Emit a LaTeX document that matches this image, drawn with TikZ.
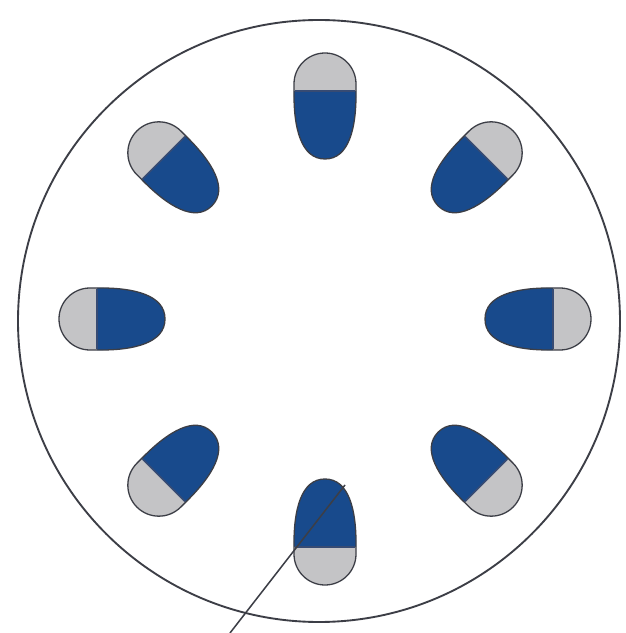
\documentclass[tikz,border=0pt]{standalone}
\usetikzlibrary{calc}
\definecolor{capblue}{RGB}{24,74,140}
\definecolor{capgray}{RGB}{196,196,198}
\definecolor{capline}{RGB}{60,62,70}
\definecolor{divline}{RGB}{55,75,115}
\tikzset{
  capsule/.pic={
    \fill[capblue] (15,31) .. controls (-22,31.5) and (-53,24) .. (-53,0)
                  .. controls (-53,-24) and (-22,-31.5) .. (15,-31) -- cycle;
    \fill[capgray] (15,31) -- (22,31) arc[start angle=90,end angle=-90,radius=31] -- (15,-31) -- cycle;
    \draw[divline,line width=1.4pt] (15,30) -- (15,-30);
    \draw[capline,line width=1.1pt] (15,31) -- (22,31) arc[start angle=90,end angle=-90,radius=31]
        -- (15,-31) .. controls (-22,-31.5) and (-53,-24) .. (-53,0)
        .. controls (-53,24) and (-22,31.5) .. (15,31) -- cycle;
  },
  rim/.style={draw=capline,line width=1.6pt},
  pointer/.style={draw=capline,line width=1.3pt}
}
\begin{document}
\begin{tikzpicture}[x=0.03cm,y=0.03cm]
\useasboundingbox (0,0) rectangle (626,633);
\fill[white] (0,0) rectangle (626,633);
\draw[rim] (319,312) circle[radius=301];
\foreach \a in {0,45,...,315}{
  \pic[rotate=\a] at ($(325,314)+(\a:213)$) {capsule};
}
\coordinate (pstart) at (230,0);
\coordinate (pend) at (345,148);
\draw[pointer] (pstart) -- (pend);
\end{tikzpicture}
\end{document}
